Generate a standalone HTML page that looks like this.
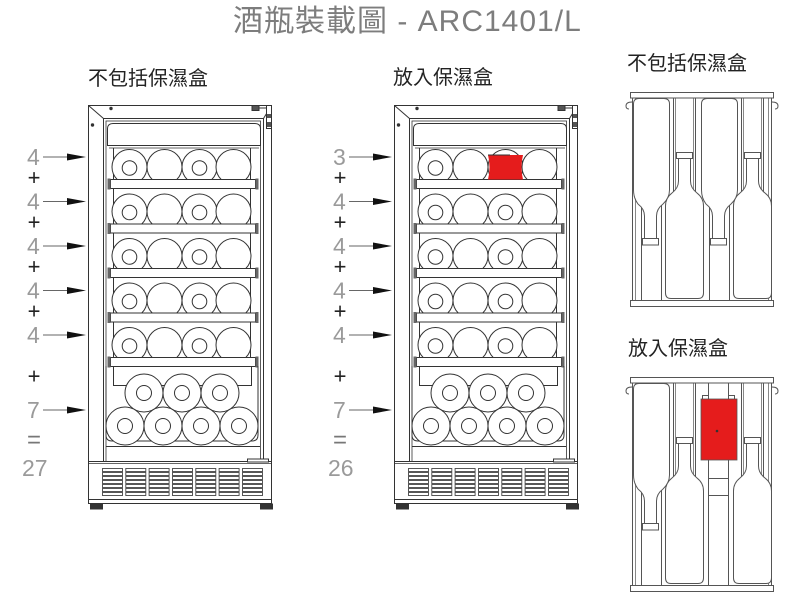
<!DOCTYPE html>
<html>
<head>
<meta charset="utf-8">
<style>
html,body{margin:0;padding:0;background:#fff;}
body{width:791px;height:605px;overflow:hidden;}
svg{display:block;}
.num{font-family:"Liberation Sans",sans-serif;font-size:23px;fill:#9a9a9a;}
.op{font-family:"Liberation Sans",sans-serif;font-size:22px;fill:#222;text-anchor:middle;}
.eq{font-family:"Liberation Sans",sans-serif;font-size:24px;fill:#777;text-anchor:middle;}
.lab{font-family:"Liberation Sans","Noto Sans CJK TC",sans-serif;font-size:20px;fill:#222;}
.title{font-family:"Liberation Sans","Noto Sans CJK TC",sans-serif;font-size:30px;fill:#7d7d7d;letter-spacing:1px;}
</style>
</head>
<body>
<svg width="791" height="605" viewBox="0 0 791 605" xmlns="http://www.w3.org/2000/svg">
<defs>
  <g id="gcol" fill="#fff" stroke="#444" stroke-width="0.9">
    <rect x="0.5" y="468.5" width="20" height="3"/>
    <rect x="0.5" y="472.5" width="20" height="3"/>
    <rect x="0.5" y="476.5" width="20" height="3"/>
    <rect x="0.5" y="480.5" width="20" height="3"/>
    <rect x="0.5" y="484.5" width="20" height="3"/>
    <rect x="0.5" y="488.5" width="20" height="3"/>
    <rect x="0.5" y="492.5" width="20" height="3"/>
  </g>
  <g id="row" stroke="#333" stroke-width="1">
    <circle cx="129.5" cy="167" r="17.5" fill="#fff"/>
    <circle cx="164.5" cy="167" r="17.5" fill="#fff"/>
    <circle cx="199.5" cy="167" r="17.5" fill="#fff"/>
    <circle cx="233.5" cy="167" r="17.5" fill="#fff"/>
    <circle cx="129.5" cy="168" r="7.3" fill="none"/>
    <circle cx="199.5" cy="168" r="7.3" fill="none"/>
    <rect x="110.5" y="179.5" width="145" height="9" fill="#fff"/>
    <rect x="107.5" y="178.5" width="3" height="11" fill="#666" stroke="none"/>
    <rect x="255.5" y="178.5" width="3" height="11" fill="#666" stroke="none"/>
  </g>
  <g id="fr" fill="none" stroke="#333" stroke-width="1">
    <rect x="88.5" y="105.5" width="183" height="356" fill="#fff"/>
    <line x1="88.5" y1="105.5" x2="103.5" y2="118.5"/>
    <line x1="271.5" y1="105.5" x2="263.5" y2="118.5"/>
    <rect x="103.5" y="118.5" width="160" height="343"/>
    <rect x="106" y="121" width="154.5" height="340.5" stroke-width="0.8"/>
    <circle cx="111" cy="108.5" r="1.2" fill="#333"/>
    <circle cx="92.5" cy="125" r="1.2" fill="#333"/>
    <rect x="252" y="105.5" width="7" height="5" fill="#555"/>
    <line x1="259" y1="108" x2="267" y2="108"/>
    <rect x="266.5" y="105.5" width="5" height="23" fill="#fff"/>
    <rect x="267" y="114" width="4" height="4" fill="#555" stroke="none"/>
    <rect x="267" y="122" width="4" height="5" fill="#555" stroke="none"/>
    <path d="M107.5,145.5 V129 Q107.5,123.5 113,123.5 H255 Q260.5,123.5 260.5,129 V145.5 Z" fill="#fff"/>
    <line x1="109" y1="148" x2="259" y2="148" stroke-width="0.7"/>
    <line x1="113.5" y1="148" x2="113.5" y2="366"/>
    <line x1="250.5" y1="148" x2="250.5" y2="366"/>
    <use href="#row"/>
    <use href="#row" y="44.5"/>
    <use href="#row" y="89"/>
    <use href="#row" y="133.5"/>
    <use href="#row" y="178"/>
    <path d="M106,366 V435 Q106,441 112,441 H252 Q258,441 258,435 V366"/>
    <path d="M113.5,366.5 V385.5 H251.5 V366.5"/>
    <g fill="#fff">
      <circle cx="144" cy="393" r="19"/>
      <circle cx="182" cy="393" r="19"/>
      <circle cx="220" cy="393" r="19"/>
      <circle cx="144" cy="393" r="7.5"/>
      <circle cx="182" cy="393" r="7.5"/>
      <circle cx="220" cy="393" r="7.5"/>
      <circle cx="125" cy="426" r="19"/>
      <circle cx="163" cy="426" r="19"/>
      <circle cx="201" cy="426" r="19"/>
      <circle cx="239" cy="426" r="19"/>
      <circle cx="125" cy="426" r="7.5"/>
      <circle cx="163" cy="426" r="7.5"/>
      <circle cx="201" cy="426" r="7.5"/>
      <circle cx="239" cy="426" r="7.5"/>
    </g>
    <line x1="106" y1="446.5" x2="260" y2="446.5"/>
    <rect x="88.5" y="461.5" width="183" height="42" fill="#fff"/>
    <line x1="88.5" y1="463.5" x2="271.5" y2="463.5" stroke-width="0.7"/>
    <line x1="88.5" y1="499.5" x2="271.5" y2="499.5"/>
    <rect x="247.5" y="459" width="21" height="3" fill="#fff"/>
    <use href="#gcol" x="102"/>
    <use href="#gcol" x="125.3"/>
    <use href="#gcol" x="148.6"/>
    <use href="#gcol" x="172"/>
    <use href="#gcol" x="195.3"/>
    <use href="#gcol" x="218.6"/>
    <use href="#gcol" x="242"/>
    <rect x="90" y="503.5" width="13" height="6" fill="#333" stroke="none"/>
    <rect x="260" y="503.5" width="13" height="6" fill="#333" stroke="none"/>
  </g>
  <g id="arr">
    <line x1="43" y1="0" x2="68" y2="0" stroke="#666" stroke-width="1"/>
    <polygon points="67,-3.5 86,0 67,3.5" fill="#111"/>
  </g>
  <g id="nums">
    <use href="#arr" y="157"/>
    <use href="#arr" y="201.5"/>
    <use href="#arr" y="246"/>
    <use href="#arr" y="290.5"/>
    <use href="#arr" y="335"/>
    <use href="#arr" y="410"/>
    <text class="op" x="34" y="185">+</text>
    <text class="op" x="34" y="229.5">+</text>
    <text class="op" x="34" y="274">+</text>
    <text class="op" x="34" y="318.5">+</text>
    <text class="op" x="34" y="383.5">+</text>
    <text class="num" x="27" y="418">7</text>
    <text class="eq" x="34" y="447.5">=</text>
  </g>
  <g id="pan" fill="none" stroke="#555" stroke-width="1">
    <rect x="630.5" y="92.5" width="143" height="5.5" fill="#fff"/>
    <line x1="632.5" y1="98" x2="632.5" y2="300"/>
    <line x1="635.5" y1="98" x2="635.5" y2="300" stroke-width="0.7"/>
    <line x1="771.5" y1="98" x2="771.5" y2="300"/>
    <line x1="768.5" y1="98" x2="768.5" y2="300" stroke-width="0.7"/>
    <rect x="630.5" y="300.5" width="143" height="6" fill="#fff"/>
    <path d="M632,102 Q626,102 626,106 Q626,109 629,109"/>
    <path d="M772,102 Q778,102 778,106 Q778,109 775,109"/>
    <line x1="641.5" y1="205" x2="641.5" y2="300"/>
    <line x1="661.5" y1="205" x2="661.5" y2="300"/>
    <path d="M633.5,104 Q633.5,98.5 639,98.5 H664 Q669.5,98.5 669.5,104 V190 Q669.5,198 663,204 Q656.5,209 656.5,216 V238.5 H644.5 V216 Q644.5,209 638,204 Q633.5,198 633.5,190 Z" fill="#fff"/>
    <rect x="642.5" y="238.5" width="16" height="6.5" fill="#fff"/>
    <line x1="673.5" y1="98" x2="673.5" y2="192"/>
    <line x1="675.5" y1="98" x2="675.5" y2="192" stroke-width="0.7"/>
    <line x1="693.5" y1="98" x2="693.5" y2="192" stroke-width="0.7"/>
    <line x1="695.5" y1="98" x2="695.5" y2="192"/>
    <path d="M671,298.5 Q665.5,298.5 665.5,293 V206 Q665.5,198 672,193 Q678.5,188 678.5,181 V158.5 H690.5 V181 Q690.5,188 697,193 Q703.5,198 703.5,206 V293 Q703.5,298.5 698,298.5 Z" fill="#fff"/>
    <rect x="676.5" y="152.5" width="16" height="6" fill="#fff"/>
    <line x1="741.5" y1="98" x2="741.5" y2="192"/>
    <line x1="743.5" y1="98" x2="743.5" y2="192" stroke-width="0.7"/>
    <line x1="761.5" y1="98" x2="761.5" y2="192" stroke-width="0.7"/>
    <line x1="763.5" y1="98" x2="763.5" y2="192"/>
    <path d="M739,298.5 Q733.5,298.5 733.5,293 V206 Q733.5,198 740,193 Q746.5,188 746.5,181 V158.5 H758.5 V181 Q758.5,188 765,193 Q771.5,198 771.5,206 V293 Q771.5,298.5 766,298.5 Z" fill="#fff"/>
    <rect x="744.5" y="152.5" width="16" height="6" fill="#fff"/>
  </g>
</defs>

<text class="title" x="233" y="31">酒瓶裝載圖 - ARC1401/L</text>

<text class="lab" x="88" y="85">不包括保濕盒</text>
<text class="lab" x="393" y="84">放入保濕盒</text>
<text class="lab" x="627" y="70">不包括保濕盒</text>
<text class="lab" x="628" y="355">放入保濕盒</text>

<use href="#fr"/>
<use href="#nums"/>
<text class="num" x="27" y="165">4</text>
<text class="num" x="27" y="209.5">4</text>
<text class="num" x="27" y="254">4</text>
<text class="num" x="27" y="298.5">4</text>
<text class="num" x="27" y="343">4</text>
<text class="num" x="22" y="476">27</text>

<use href="#fr" x="306"/>
<use href="#nums" x="306"/>
<text class="num" x="333" y="165">3</text>
<text class="num" x="333" y="209.5">4</text>
<text class="num" x="333" y="254">4</text>
<text class="num" x="333" y="298.5">4</text>
<text class="num" x="333" y="343">4</text>
<text class="num" x="328" y="476">26</text>
<path d="M488,155 H523 Q520,167 523,179.5 H488 Q491,167 488,155 Z" fill="#e51c1c"/>
<line x1="488" y1="155" x2="510" y2="155" stroke="#333" stroke-width="1"/>

<use href="#pan"/>
<g fill="none" stroke="#555" stroke-width="1">
  <line x1="709.5" y1="205" x2="709.5" y2="300"/>
  <line x1="729.5" y1="205" x2="729.5" y2="300"/>
  <path d="M701.5,104 Q701.5,98.5 707,98.5 H732 Q737.5,98.5 737.5,104 V190 Q737.5,198 731,204 Q724.5,209 724.5,216 V238.5 H712.5 V216 Q712.5,209 706,204 Q701.5,198 701.5,190 Z" fill="#fff"/>
  <rect x="710.5" y="238.5" width="16" height="6.5" fill="#fff"/>
</g>

<use href="#pan" y="285"/>
<g fill="none" stroke="#555" stroke-width="1">
  <line x1="708.5" y1="383" x2="708.5" y2="585"/>
  <line x1="728.5" y1="383" x2="728.5" y2="585"/>
  <line x1="708.5" y1="478.5" x2="728.5" y2="478.5"/>
  <line x1="708.5" y1="495.5" x2="728.5" y2="495.5"/>
  <rect x="702.5" y="395.5" width="6" height="4" fill="#fff"/>
  <rect x="728.5" y="395.5" width="6" height="4" fill="#fff"/>
</g>
<rect x="701" y="399" width="36" height="61" fill="#e51c1c" stroke="#555" stroke-width="0.8"/>
<circle cx="717" cy="431" r="1.3" fill="#333"/>
</svg>
</body>
</html>
